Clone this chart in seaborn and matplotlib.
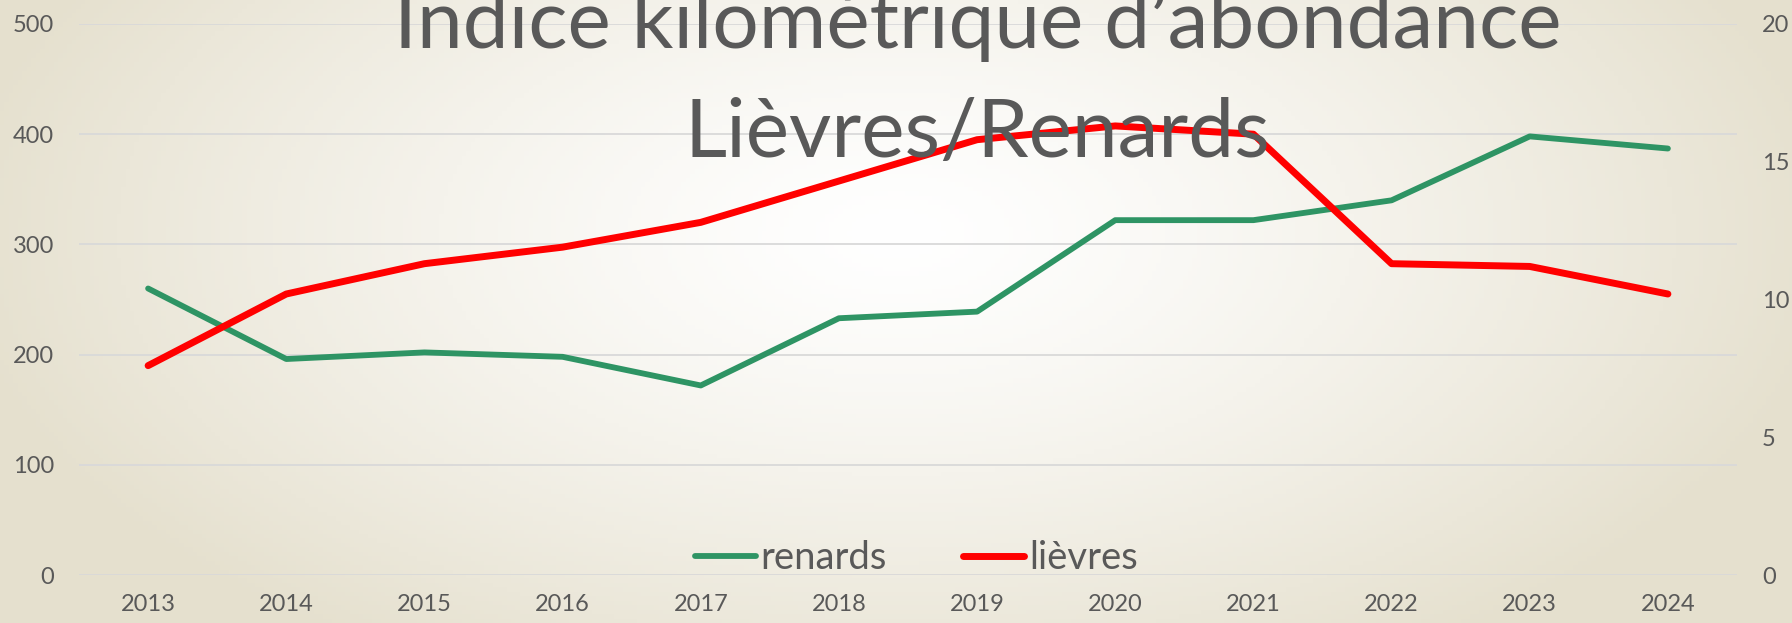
import numpy as np
import pandas as pd
import matplotlib
matplotlib.use("Agg")
import matplotlib.pyplot as plt
import seaborn as sns

years = [2013, 2014, 2015, 2016, 2017, 2018, 2019, 2020, 2021, 2022, 2023, 2024]
renards = [260, 196, 202, 198, 172, 233, 239, 322, 322, 340, 398, 387]
lievres = [7.6, 10.2, 11.3, 11.9, 12.8, 14.3, 15.8, 16.3, 16.0, 11.3, 11.2, 10.2]
left_ticks = [0, 100, 200, 300, 400, 500]
right_ticks = [0, 5, 10, 15, 20]
title_lines = ["Indice kilométrique d\u2019abondance", "Lièvres/Renards"]

green = "#2e9464"
red = "#ff0000"
grey = "#595959"

sns.set_theme(style="white")
plt.rcParams["font.family"] = ["Lato", "DejaVu Sans"]

df = pd.DataFrame({"year": [str(y) for y in years], "renards": renards, "lievres": lievres})

fig = plt.figure(figsize=(17.92, 6.23), dpi=100)

# background radial gradient
bg = fig.add_axes([0, 0, 1, 1], zorder=-10)
gx, gy = np.meshgrid(np.linspace(-1, 1, 400), np.linspace(-1, 1, 140))
r = np.sqrt(((gx - 0.0) / 1.05) ** 2 + ((gy + 0.25) / 1.6) ** 2)
r = np.clip(r, 0, 1)
c0 = np.array([1.0, 1.0, 1.0])
c1 = np.array([0.90, 0.88, 0.81])
img = c0 + (c1 - c0) * r[..., None] ** 1.3
bg.imshow(img, aspect="auto", extent=[0, 1, 0, 1])
bg.axis("off")

ax = fig.add_axes([0.0441, 0.077, 0.9252, 0.8845])
ax.patch.set_alpha(0)
ax2 = ax.twinx()

sns.lineplot(data=df, x="year", y="renards", ax=ax, color=green, lw=4.2,
             sort=False, solid_capstyle="round", solid_joinstyle="round", label="renards", legend=False)
sns.lineplot(data=df, x="year", y="lievres", ax=ax2, color=red, lw=5,
             sort=False, solid_capstyle="round", solid_joinstyle="round", label="lièvres", legend=False)

ax.set_xlim(-0.5, len(years) - 0.5)
ax.set_ylim(0, 500)
ax2.set_ylim(0, 20)
ax.set_yticks(left_ticks)
ax2.set_yticks(right_ticks)
ax.grid(axis="y", color="#d9d9d9", lw=1.3)
ax.grid(axis="x", visible=False)
ax2.grid(False)
for a in (ax, ax2):
    for s in a.spines.values():
        s.set_visible(False)
    a.set_xlabel("")
    a.set_ylabel("")
    a.tick_params(length=0, labelsize=17, labelcolor=grey)
ax.tick_params(axis="y", pad=18)
ax2.tick_params(axis="y", pad=18)
ax.tick_params(axis="x", pad=14)

h1, l1 = ax.get_legend_handles_labels()
h2, l2 = ax2.get_legend_handles_labels()
leg = ax.legend(h1 + h2, l1 + l2, loc="center", bbox_to_anchor=(0.505, 0.03), ncol=2,
                frameon=False, fontsize=27.5, labelcolor=grey, handlelength=1.6,
                handletextpad=0.12, columnspacing=2.0)
for ln in leg.get_lines():
    ln.set_solid_capstyle("round")

fig.text(0.5455, 1 - 48 / 623, title_lines[0], ha="center", va="baseline",
         fontsize=59, color=grey)
fig.text(0.5455, 1 - 157 / 623, title_lines[1], ha="center", va="baseline",
         fontsize=59, color=grey)

fig.savefig("out.png", dpi=100)
